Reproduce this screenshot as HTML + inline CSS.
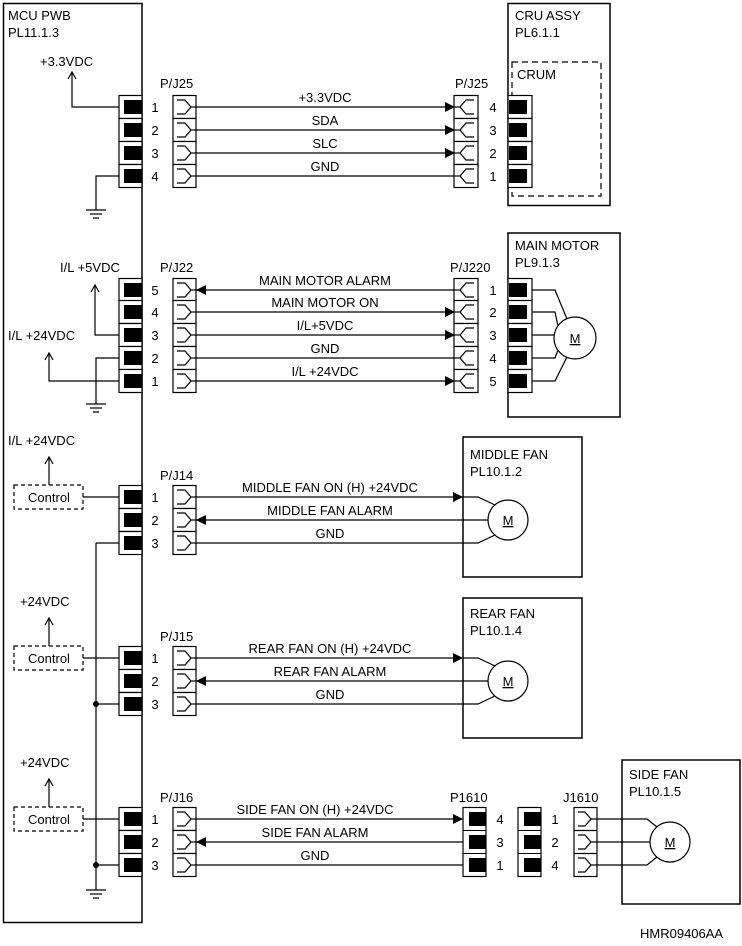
<!DOCTYPE html>
<html><head><meta charset="utf-8"><style>
html,body{margin:0;padding:0;background:#fff}
svg{display:block}
text{font-family:"Liberation Sans",Arial,sans-serif;font-size:13px;fill:#000}
.m{text-anchor:middle}
</style></head><body>
<svg width="742" height="946" viewBox="0 0 742 946" xmlns="http://www.w3.org/2000/svg" stroke-linecap="butt">
<defs>
<g id="mp"><rect x="119" y="-11.5" width="23" height="23" fill="#fff" stroke="#000" stroke-width="1.2"/><rect x="124" y="-7" width="18" height="14" fill="#000"/></g>
<g id="pl" fill="none" stroke="#000" stroke-width="1.2"><rect x="173" y="-11.5" width="23" height="23" fill="#fff"/><path d="M177,-7H185L191,0L185,7H177"/><line x1="191" y1="0" x2="196" y2="0"/></g>
<g id="rc" fill="none" stroke="#000" stroke-width="1.2"><rect x="454" y="-11.5" width="24" height="23" fill="#fff"/><path d="M474,-7H466L460,0L466,7H474"/><line x1="454" y1="0" x2="460" y2="0"/></g>
<g id="cp"><rect x="508" y="-11.5" width="24" height="23" fill="#fff" stroke="#000" stroke-width="1.2"/><rect x="509" y="-7" width="18" height="14" fill="#000"/></g>
<path id="ar" d="M0,0L-10,-5L-10,5Z" fill="#000"/>
<path id="al" d="M0,0L10,-5L10,5Z" fill="#000"/>
<g id="up" fill="none" stroke="#000" stroke-width="1.2"><path d="M-4,7L0,0L4,7"/></g>
<g id="gnd" stroke="#000" stroke-width="1.2"><line x1="-10" y1="0" x2="10" y2="0"/><line x1="-6" y1="4" x2="6" y2="4"/><line x1="-3" y1="8" x2="3" y2="8"/></g>
</defs>

<g fill="none" stroke="#000" stroke-width="1.5">
<rect x="3.5" y="3.5" width="138.5" height="919"/>
<rect x="508" y="3.5" width="102" height="202"/>
<rect x="508" y="233" width="112" height="184"/>
<rect x="463" y="437" width="119" height="140"/>
<rect x="463" y="598" width="119" height="140"/>
<rect x="622" y="760" width="118" height="144"/>
</g>
<rect x="512" y="62" width="89" height="134" fill="none" stroke="#000" stroke-width="1.2" stroke-dasharray="6,4"/>

<text x="8" y="20">MCU PWB</text><text x="8" y="37">PL11.1.3</text>
<text x="515" y="20">CRU ASSY</text><text x="515" y="37">PL6.1.1</text>
<text x="517" y="79">CRUM</text>
<text x="515" y="250">MAIN MOTOR</text><text x="515" y="267">PL9.1.3</text>
<text x="470" y="459">MIDDLE FAN</text><text x="470" y="476">PL10.1.2</text>
<text x="470" y="618">REAR FAN</text><text x="470" y="635">PL10.1.4</text>
<text x="629" y="779">SIDE FAN</text><text x="629" y="796">PL10.1.5</text>
<text x="640" y="938">HMR09406AA</text>

<text x="160" y="88">P/J25</text><text x="455" y="88">P/J25</text>
<text x="40" y="66">+3.3VDC</text>
<g stroke="#000" stroke-width="1.2" fill="none">
<path d="M72,72V107H119"/>
<path d="M119,176H96V210"/>
<line x1="196" y1="107" x2="454" y2="107"/><line x1="196" y1="130" x2="454" y2="130"/><line x1="196" y1="153" x2="454" y2="153"/><line x1="196" y1="176" x2="454" y2="176"/>
</g>
<use href="#up" x="72" y="72"/><use href="#gnd" x="96" y="210"/>
<use href="#mp" y="107"/><use href="#mp" y="130"/><use href="#mp" y="153"/><use href="#mp" y="176"/>
<use href="#pl" y="107"/><use href="#pl" y="130"/><use href="#pl" y="153"/><use href="#pl" y="176"/>
<use href="#rc" y="107"/><use href="#rc" y="130"/><use href="#rc" y="153"/><use href="#rc" y="176"/>
<use href="#cp" y="107"/><use href="#cp" y="130"/><use href="#cp" y="153"/><use href="#cp" y="176"/>
<use href="#ar" x="455" y="107"/><use href="#ar" x="455" y="130"/><use href="#ar" x="455" y="153"/>
<g class="m"><text x="155" y="112">1</text><text x="155" y="135">2</text><text x="155" y="158">3</text><text x="155" y="181">4</text>
<text x="493" y="112">4</text><text x="493" y="135">3</text><text x="493" y="158">2</text><text x="493" y="181">1</text>
<text x="325" y="102">+3.3VDC</text><text x="325" y="125">SDA</text><text x="325" y="148">SLC</text><text x="325" y="171">GND</text></g>

<text x="160" y="272">P/J22</text><text x="450" y="272">P/J220</text>
<text x="60" y="272">I/L +5VDC</text><text x="8" y="340">I/L +24VDC</text>
<g stroke="#000" stroke-width="1.2" fill="none">
<path d="M95,285V335H119"/><path d="M49,353V381H119"/><path d="M119,358H96V404"/>
<line x1="196" y1="290" x2="454" y2="290"/><line x1="196" y1="312" x2="454" y2="312"/><line x1="196" y1="335" x2="454" y2="335"/><line x1="196" y1="358" x2="454" y2="358"/><line x1="196" y1="381" x2="454" y2="381"/>
<circle cx="575" cy="338" r="21" fill="#fff"/>
<path d="M532,290H555L567,319"/><path d="M532,312H555L558,326"/><path d="M532,335H554"/><path d="M532,358H555L558,350"/><path d="M532,381H555L567,357"/>
</g>
<use href="#up" x="95" y="285"/><use href="#up" x="49" y="353"/><use href="#gnd" x="96" y="404"/>
<use href="#mp" y="290"/><use href="#mp" y="312"/><use href="#mp" y="335"/><use href="#mp" y="358"/><use href="#mp" y="381"/>
<use href="#pl" y="290"/><use href="#pl" y="312"/><use href="#pl" y="335"/><use href="#pl" y="358"/><use href="#pl" y="381"/>
<use href="#rc" y="290"/><use href="#rc" y="312"/><use href="#rc" y="335"/><use href="#rc" y="358"/><use href="#rc" y="381"/>
<use href="#cp" y="290"/><use href="#cp" y="312"/><use href="#cp" y="335"/><use href="#cp" y="358"/><use href="#cp" y="381"/>
<use href="#al" x="196" y="290"/><use href="#ar" x="455" y="312"/><use href="#ar" x="455" y="335"/><use href="#ar" x="455" y="381"/>
<g class="m"><text x="155" y="295">5</text><text x="155" y="317">4</text><text x="155" y="340">3</text><text x="155" y="363">2</text><text x="155" y="386">1</text>
<text x="493" y="295">1</text><text x="493" y="317">2</text><text x="493" y="340">3</text><text x="493" y="363">4</text><text x="493" y="386">5</text>
<text x="325" y="285">MAIN MOTOR ALARM</text><text x="325" y="307">MAIN MOTOR ON</text><text x="325" y="330">I/L+5VDC</text><text x="325" y="353">GND</text><text x="325" y="376">I/L +24VDC</text>
<text x="575" y="343" style="text-decoration:underline">M</text></g>

<g stroke="#000" stroke-width="1.2" fill="none">
<line x1="96" y1="543" x2="96" y2="890"/><line x1="96" y1="543" x2="119" y2="543"/><line x1="96" y1="704" x2="119" y2="704"/><line x1="96" y1="865" x2="119" y2="865"/>
<rect x="14" y="485" width="69" height="24" stroke-dasharray="4,3"/><rect x="14" y="646" width="69" height="24" stroke-dasharray="4,3"/><rect x="14" y="807" width="69" height="24" stroke-dasharray="4,3"/>
<path d="M83,497H119M49,485V457"/><path d="M83,658H119M49,646V618"/><path d="M83,819H119M49,807V779"/>
<line x1="196" y1="497" x2="463" y2="497"/><line x1="196" y1="520" x2="463" y2="520"/><line x1="196" y1="543" x2="463" y2="543"/>
<line x1="196" y1="658" x2="463" y2="658"/><line x1="196" y1="681" x2="463" y2="681"/><line x1="196" y1="704" x2="463" y2="704"/>
<line x1="196" y1="819" x2="463" y2="819"/><line x1="196" y1="842" x2="463" y2="842"/><line x1="196" y1="865" x2="463" y2="865"/>
<circle cx="508" cy="520" r="20" fill="#fff"/><path d="M463,497H478L495,505M463,520H488M463,543H478L495,535"/>
<circle cx="508" cy="681" r="20" fill="#fff"/><path d="M463,658H478L495,666M463,681H488M463,704H478L495,696"/>
<circle cx="670" cy="842" r="20" fill="#fff"/><path d="M597,819H647L657,827M597,842H650M597,865H647L657,857"/>
</g>
<circle cx="96" cy="704" r="3" fill="#000"/><circle cx="96" cy="865" r="3" fill="#000"/>
<use href="#gnd" x="96" y="890"/>
<use href="#up" x="49" y="457"/><use href="#up" x="49" y="618"/><use href="#up" x="49" y="779"/>
<text x="8" y="445">I/L +24VDC</text><text x="20" y="606">+24VDC</text><text x="20" y="767">+24VDC</text>
<g class="m"><text x="49" y="502">Control</text><text x="49" y="663">Control</text><text x="49" y="824">Control</text></g>
<text x="160" y="480">P/J14</text><text x="160" y="641">P/J15</text><text x="160" y="802">P/J16</text>
<text x="450" y="802">P1610</text><text x="563" y="802">J1610</text>
<use href="#mp" y="497"/><use href="#mp" y="520"/><use href="#mp" y="543"/>
<use href="#mp" y="658"/><use href="#mp" y="681"/><use href="#mp" y="704"/>
<use href="#mp" y="819"/><use href="#mp" y="842"/><use href="#mp" y="865"/>
<use href="#pl" y="497"/><use href="#pl" y="520"/><use href="#pl" y="543"/>
<use href="#pl" y="658"/><use href="#pl" y="681"/><use href="#pl" y="704"/>
<use href="#pl" y="819"/><use href="#pl" y="842"/><use href="#pl" y="865"/>
<use href="#ar" x="463" y="497"/><use href="#al" x="196" y="520"/>
<use href="#ar" x="463" y="658"/><use href="#al" x="196" y="681"/>
<use href="#al" x="196" y="842"/>
<g>
<rect x="463" y="807.5" width="23" height="69" fill="#fff" stroke="#000" stroke-width="1.2"/>
<line x1="463" y1="830.5" x2="486" y2="830.5" stroke="#000"/><line x1="463" y1="853.5" x2="486" y2="853.5" stroke="#000"/>
<rect x="469" y="812" width="17" height="14" fill="#000"/><rect x="469" y="835" width="17" height="14" fill="#000"/><rect x="469" y="858" width="17" height="14" fill="#000"/>
<rect x="518" y="807.5" width="23" height="69" fill="#fff" stroke="#000" stroke-width="1.2"/>
<line x1="518" y1="830.5" x2="541" y2="830.5" stroke="#000"/><line x1="518" y1="853.5" x2="541" y2="853.5" stroke="#000"/>
<rect x="524" y="812" width="17" height="14" fill="#000"/><rect x="524" y="835" width="17" height="14" fill="#000"/><rect x="524" y="858" width="17" height="14" fill="#000"/>
<g fill="none" stroke="#000" stroke-width="1.2">
<rect x="574" y="807.5" width="23" height="69" fill="#fff"/>
<line x1="574" y1="830.5" x2="597" y2="830.5"/><line x1="574" y1="853.5" x2="597" y2="853.5"/>
<path d="M578,812H585L591,819L585,826H578M578,835H585L591,842L585,849H578M578,858H585L591,865L585,872H578"/>
<path d="M591,819H597M591,842H597M591,865H597"/>
</g>
</g>
<use href="#ar" x="463" y="819"/>
<g class="m">
<text x="155" y="502">1</text><text x="155" y="525">2</text><text x="155" y="548">3</text>
<text x="155" y="663">1</text><text x="155" y="686">2</text><text x="155" y="709">3</text>
<text x="155" y="824">1</text><text x="155" y="847">2</text><text x="155" y="870">3</text>
<text x="500" y="824">4</text><text x="500" y="847">3</text><text x="500" y="870">1</text>
<text x="555" y="824">1</text><text x="555" y="847">2</text><text x="555" y="870">4</text>
<text x="330" y="492">MIDDLE FAN ON (H) +24VDC</text><text x="330" y="515">MIDDLE FAN ALARM</text><text x="330" y="538">GND</text>
<text x="330" y="653">REAR FAN ON (H) +24VDC</text><text x="330" y="676">REAR FAN ALARM</text><text x="330" y="699">GND</text>
<text x="315" y="814">SIDE FAN ON (H) +24VDC</text><text x="315" y="837">SIDE FAN ALARM</text><text x="315" y="860">GND</text>
<text x="508" y="525" style="text-decoration:underline">M</text><text x="508" y="686" style="text-decoration:underline">M</text><text x="670" y="847" style="text-decoration:underline">M</text>
</g>
</svg>
</body></html>
